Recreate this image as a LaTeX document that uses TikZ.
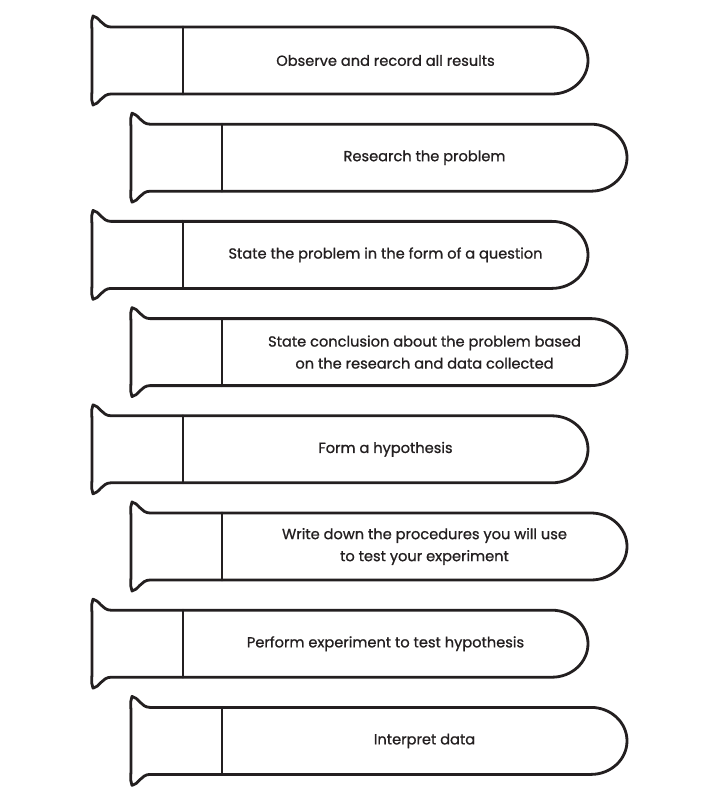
\documentclass[tikz,border=0pt]{standalone}
\usepackage{fontspec}
\setmainfont{Poppins}
\newfontfamily\stepfont{Poppins}[FakeBold=0.9]
\definecolor{ink}{HTML}{231F20}
\begin{document}
\begin{tikzpicture}[x=1pt,y=-1pt,
  tube/.style={draw=ink, line width=2.8pt, line join=round, line cap=round},
  steptext/.style={font=\stepfont\fontsize{14.6}{22}\selectfont, text=ink, align=center, inner sep=0pt}]
\useasboundingbox[fill=white] (0,0) rectangle (711,799);
\foreach \i/\xo/\txt in {
  1/0/{Observe and record all results},
  2/39/{Research the problem},
  3/0/{State the problem in the form of a question},
  4/39/{State conclusion about the problem based\\on the research and data collected},
  5/0/{Form a hypothesis},
  6/39/{Write down the procedures you will use\\to test your experiment},
  7/0/{Perform experiment to test hypothesis},
  8/39/{Interpret data}} {
  \pgfmathsetmacro{\yc}{60.5+97.2*(\i-1)}
  \pgfmathsetmacro{\xa}{92+\xo}
  \pgfmathsetmacro{\xin}{183+\xo}
  \pgfmathsetmacro{\xr}{588+\xo}
  \pgfmathsetmacro{\xt}{(\xin+\xr)/2}
  \draw[tube] (\xr-36,\yc-33.5) -- (\xa+19,\yc-33.5)
    .. controls (\xa+10,\yc-33.5) and (\xa+7,\yc-44) .. (\xa+1,\yc-44.5)
    .. controls (\xa-0.5,\yc-40) .. (\xa,\yc-30) -- (\xa,\yc+30)
    .. controls (\xa-0.5,\yc+40) .. (\xa+1,\yc+44.5)
    .. controls (\xa+7,\yc+44) and (\xa+10,\yc+33.5) .. (\xa+19,\yc+33.5)
    -- (\xr-36,\yc+33.5)
    arc[start angle=90, end angle=-90, x radius=36, y radius=33.5] -- cycle;
  \draw[tube] (\xin,\yc-33.5) -- (\xin,\yc+33.5);
  \node[steptext] (t\i) at (\xt,\yc) {\txt};
}
\end{tikzpicture}
\end{document}
